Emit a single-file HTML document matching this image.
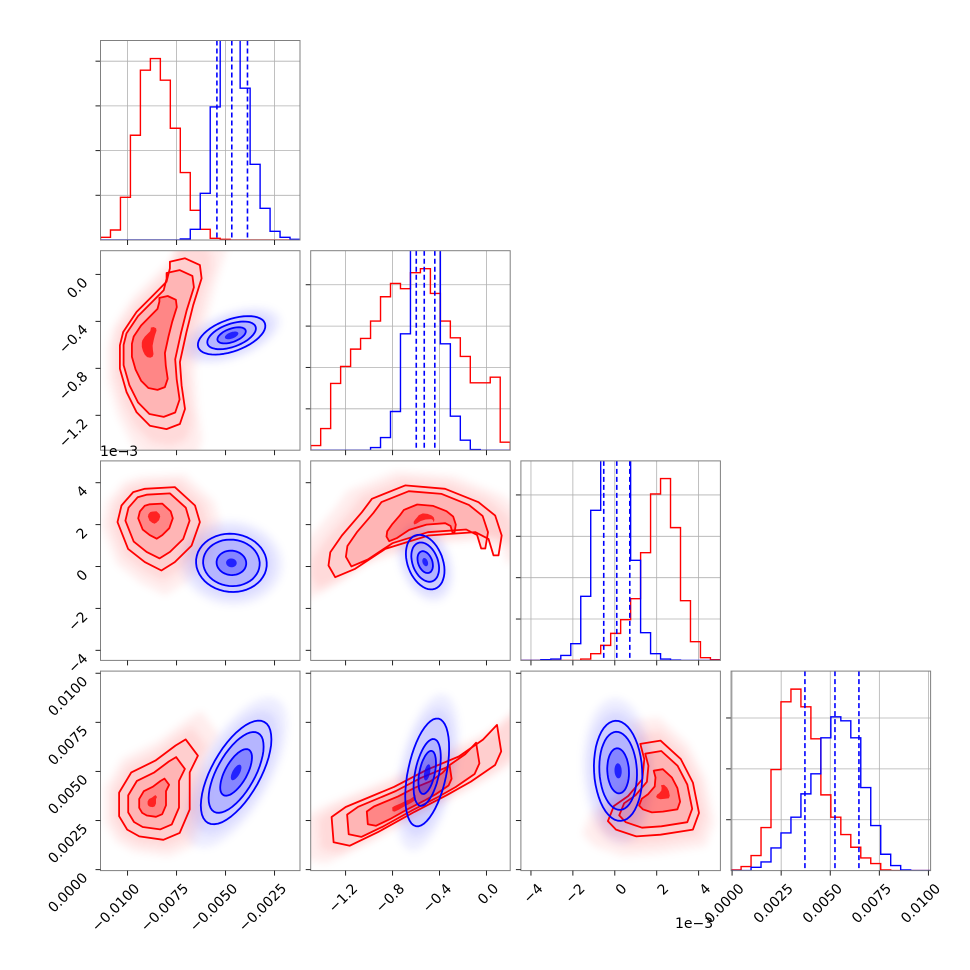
<!DOCTYPE html>
<html><head><meta charset="utf-8"><style>
html,body{margin:0;padding:0;background:#fff;}
svg{display:block;font-family:"DejaVu Sans","Liberation Sans",sans-serif;}
</style></head><body>
<svg id="fig" width="970" height="970" viewBox="0 0 970 970" xmlns="http://www.w3.org/2000/svg">
<defs><filter id="blur" x="-50%" y="-50%" width="200%" height="200%"><feGaussianBlur stdDeviation="4"/></filter></defs>
<rect width="970" height="970" fill="#fff"/>
</svg>
<script>
// ---- histogram data (counts per bin, 20 bins over each axis range) ----
const redHist0=[8,30,128,314,509,544,479,335,202,89,32,5,2,0,0,0,0,0,0,0];
const blueHist0=[0,0,0,0,0,0,0,0,3,32,140,399,700,720,455,227,95,26,8,2];
const redHist1=[14,65,200,251,303,335,387,460,500,484,532,544,470,387,337,281,202,202,219,24];
const blueHist1=[0,0,0,0,0,0,8,38,116,349,700,720,700,319,102,30,2,0,0,0];
const redHist2=[0,0,0,0,0,0,4,20,45,81,122,185,323,499,545,398,179,56,8,2];
const blueHist2=[0,0,2,4,15,50,192,450,700,720,700,300,83,20,4,1,0,0,0,0];
const redHist3=[2,12,45,129,303,506,544,491,395,227,160,108,70,38,21,2,0,0,0,0];
const blueHist3=[0,0,10,26,68,113,160,230,290,398,461,449,398,249,135,49,15,2,0,0];
const quant0=[-0.00544,-0.00468,-0.00388];
const quant1=[-0.598,-0.530,-0.440];
const quant2=[-0.527,0.095,0.716];
const quant3=[0.00371,0.00524,0.00646];
const histTickStep=[134,124,124,152.5];
// ---- axis ticks ----
const ticks0=[-0.01,-0.0075,-0.005,-0.0025];
const tickLabels0=["\u22120.0100","\u22120.0075","\u22120.0050","\u22120.0025"];
const ticks1=[-1.2,-0.8,-0.4,0.0];
const tickLabels1=["\u22121.2","\u22120.8","\u22120.4","0.0"];
const ticks2=[-4,-2,0,2,4];
const tickLabels2=["\u22124","\u22122","0","2","4"];
const ticks3=[0,0.0025,0.005,0.0075,0.01];
const tickLabels3=["0.0000","0.0025","0.0050","0.0075","0.0100"];
// ---- contour shapes (data units) ----
const redPoly10=[[-0.00784,0.108],[-0.00707,0.137],[-0.00631,0.079],[-0.00622,-0.034],[-0.00665,-0.262],[-0.00699,-0.49],[-0.00733,-0.747],[-0.00724,-0.946],[-0.00707,-1.145],[-0.00733,-1.274],[-0.00801,-1.317],[-0.00886,-1.288],[-0.00954,-1.174],[-0.01005,-1.003],[-0.01039,-0.804],[-0.01039,-0.604],[-0.01022,-0.49],[-0.00954,-0.319],[-0.00869,-0.177],[-0.00801,-0.063],[-0.00784,0.051]];
const redCenter10=[-0.00903,-0.576];
const blueCenter10=[-0.00469,-0.519];
const blueMajor10=[0.00170,0.103];
const redPoly20=[[-0.00912,3.71],[-0.00759,3.79],[-0.00656,2.91],[-0.00631,2.12],[-0.00673,1.0],[-0.00759,0.21],[-0.00827,-0.19],[-0.00912,0.21],[-0.00997,0.84],[-0.01051,2.12],[-0.01031,2.91],[-0.00971,3.55]];
const redCenter20=[-0.00869,2.43];
const blueCenter20=[-0.0047,0.175];
const blueMajor20=[0.0018,-0.16];
const redPoly21=[[-1.345,0.05],[-1.33,0.68],[-1.231,1.48],[-1.061,2.59],[-0.976,3.23],[-0.692,3.87],[-0.352,3.71],[-0.068,3.07],[0.074,2.43],[0.130,1.48],[0.102,0.53],[0.060,0.53],[0.017,1.32],[-0.096,1.64],[-0.494,1.48],[-0.862,0.84],[-1.118,-0.11],[-1.288,-0.51]];
const redCenter21=[-0.522,2.35];
const blueCenter21=[-0.522,0.21];
const blueMajor21=[-0.085,1.27];
const redPoly30=[[-0.01043,0.00272],[-0.01043,0.00392],[-0.00981,0.00495],[-0.00858,0.00555],[-0.00755,0.00632],[-0.00703,0.00663],[-0.00641,0.0058],[-0.00683,0.00495],[-0.00683,0.00306],[-0.00734,0.00187],[-0.00817,0.00152],[-0.0094,0.00169],[-0.01002,0.00204]];
const redCenter30=[-0.00878,0.00341];
const blueCenter30=[-0.00446,0.00495];
const blueMajor30=[0.00144,0.00257];
const redPoly31=[[-1.319,0.00268],[-1.199,0.00319],[-0.786,0.00422],[-0.511,0.00508],[-0.236,0.00576],[-0.030,0.00662],[0.090,0.00737],[0.125,0.00602],[0.073,0.00533],[-0.133,0.00448],[-0.339,0.00379],[-0.614,0.00294],[-0.924,0.00191],[-1.164,0.00122],[-1.302,0.00139]];
const redCenter31=[-0.719,0.00324];
const blueCenter31=[-0.505,0.00495];
const blueMajor31=[0.096,0.00274];
const redPoly32=[[1.22,0.0064],[2.18,0.00657],[3.15,0.00563],[3.73,0.00443],[4.02,0.00289],[3.73,0.00204],[2.18,0.00178],[1.03,0.00169],[0.06,0.00204],[-0.33,0.00247],[-0.04,0.00324],[0.64,0.00375],[1.32,0.00461],[1.41,0.00563]];
const redCenter32=[2.38,0.00392];
const blueCenter32=[0.159,0.00503];
const blueMajor32=[-0.13,0.00255];

const L=[100.5,310.7,520.9,731.1], T=[40.5,250.7,460.9,671.1], S=199.5;
const ranges=[[-0.01138,-0.00120],[-1.497,0.202],[-4.48,5.04],[-0.00005,0.01011]];
function X(c,v){return L[c]+(v-ranges[c][0])/(ranges[c][1]-ranges[c][0])*S;}
function Y(r,v){return T[r]+S-(v-ranges[r][0])/(ranges[r][1]-ranges[r][0])*S;}
const NS="http://www.w3.org/2000/svg";
const svg=document.getElementById('fig');
function el(tag,attrs,parent){const e=document.createElementNS(NS,tag);for(const k in attrs)e.setAttribute(k,attrs[k]);(parent||svg).appendChild(e);return e;}

const ticksAll=[ticks0,ticks1,ticks2,ticks3];
const labelsAll=[tickLabels0,tickLabels1,tickLabels2,tickLabels3];
const hists=[[redHist0,blueHist0],[redHist1,blueHist1],[redHist2,blueHist2],[redHist3,blueHist3]];
const quants=[quant0,quant1,quant2,quant3];

function clip(id,r,c){const cp=el('clipPath',{id:id});el('rect',{x:L[c],y:T[r],width:S,height:S},cp);}

for(let i=0;i<4;i++){
  const cid='clipH'+i; clip(cid,i,i);
  const g=el('g',{'clip-path':'url(#'+cid+')'});
  
  
  ticksAll[i].forEach(t=>{const x=X(i,t);const ln=el('line',{x1:x,x2:x,y1:T[i],y2:T[i]+S,stroke:'#b0b0b0','stroke-width':0.8},g);
    
    });
  for(let k=1;k*histTickStep[i]<598;k++){const y=T[i]+S-k*histTickStep[i]/598*S;
    const ln=el('line',{x1:L[i],x2:L[i]+S,y1:y,y2:y,stroke:'#b0b0b0','stroke-width':0.8},g);
    
    
    const tk=el('line',{x1:L[i]-5,x2:L[i],y1:y,y2:y,stroke:'#222','stroke-width':1});
    
    }
  const lo=ranges[i][0],hi=ranges[i][1],w=(hi-lo)/20;
  [['red',hists[i][0]],['blue',hists[i][1]]].forEach(([col,arr])=>{
    let d='M'+X(i,lo)+','+(T[i]+S);
    arr.forEach((v,k)=>{const y=T[i]+S-v/598*S;d+=' L'+X(i,lo+k*w)+','+y+' L'+X(i,lo+(k+1)*w)+','+y;});
    d+=' L'+X(i,hi)+','+(T[i]+S);
    const p=el('path',{d:d,fill:'none',stroke:col,'stroke-width':1.4},g);
    
    
  });
  quants[i].forEach(q=>{const x=X(i,q);const ln=el('line',{x1:x,x2:x,y1:T[i],y2:T[i]+S,stroke:'blue','stroke-width':1.6,'stroke-dasharray':'5,3'},g);
    
    });
}

function shapePts(r,c,spec,s){
  if(spec.type==='poly'){
    const cx=X(c,spec.center[0]),cy=Y(r,spec.center[1]);
    return spec.pts.map(p=>[cx+(X(c,p[0])-cx)*s, cy+(Y(r,p[1])-cy)*s]);
  }
  const cx=X(c,spec.center[0]),cy=Y(r,spec.center[1]);
  const ax=X(c,spec.center[0]+spec.major[0])-cx, ay=Y(r,spec.center[1]+spec.major[1])-cy;
  const px=-ay*spec.ratio, py=ax*spec.ratio; const out=[];
  for(let k=0;k<48;k++){const t=k/48*Math.PI*2;out.push([cx+s*(Math.cos(t)*ax+Math.sin(t)*px), cy+s*(Math.cos(t)*ay+Math.sin(t)*py)]);}
  return out;
}
function toD(pts){return 'M'+pts.map(p=>p[0].toFixed(1)+','+p[1].toFixed(1)).join(' L')+' Z';}

const scatters=[
 {r:1,c:0,red:{type:'poly',pts:redPoly10,center:redCenter10,levels:[1,0.86,0.55,0.18]},blue:{type:'ell',center:blueCenter10,major:blueMajor10,ratio:0.45,levels:[1,0.72,0.42,0.2]}},
 {r:2,c:0,red:{type:'poly',pts:redPoly20,center:redCenter20,levels:[1,0.78,0.42,0.15]},blue:{type:'ell',center:blueCenter20,major:blueMajor20,ratio:0.82,levels:[1,0.8,0.42,0.15]}},
 {r:2,c:1,red:{type:'poly',pts:redPoly21,center:redCenter21,levels:[1,0.82,0.4,0.12]},blue:{type:'ell',center:blueCenter21,major:blueMajor21,ratio:0.62,levels:[1,0.72,0.4,0.15]}},
 {r:3,c:0,red:{type:'poly',pts:redPoly30,center:redCenter30,levels:[1,0.72,0.38,0.12]},blue:{type:'ell',center:blueCenter30,major:blueMajor30,ratio:0.42,levels:[1,0.78,0.45,0.15]}},
 {r:3,c:1,red:{type:'poly',pts:redPoly31,center:redCenter31,levels:[1,0.78,0.5,0.14]},blue:{type:'ell',center:blueCenter31,major:blueMajor31,ratio:0.35,levels:[1,0.62,0.4,0.15]}},
 {r:3,c:2,red:{type:'poly',pts:redPoly32,center:redCenter32,levels:[1,0.8,0.45,0.15]},blue:{type:'ell',center:blueCenter32,major:blueMajor32,ratio:0.48,levels:[1,0.78,0.45,0.15]}}
];
const fillAlpha=[0.05,0.12,0.26,0.75];
scatters.forEach((sp,idx)=>{
  const cid='clipS'+idx; clip(cid,sp.r,sp.c);
  const g=el('g',{'clip-path':'url(#'+cid+')'});
  
  
  [['255,0,0','red',sp.red],['0,0,255','blue',sp.blue]].forEach(([rgb,col,spec])=>{
    [[1.45,0.07],[1.2,0.08]].forEach(([s,a])=>{const p=el('path',{d:toD(shapePts(sp.r,sp.c,spec,s)),fill:'rgba('+rgb+','+a+')',filter:'url(#blur)'},g);
      
      });
  });
  [['255,0,0','red',sp.red],['0,0,255','blue',sp.blue]].forEach(([rgb,col,spec])=>{
    spec.levels.forEach((s,li)=>{
      const p=el('path',{d:toD(shapePts(sp.r,sp.c,spec,s)),fill:'rgba('+rgb+','+fillAlpha[li]+')',stroke:li<3?col:'none','stroke-width':1.8,'stroke-linejoin':'round'},g);
      
      
    });
  });
});

for(let r=0;r<4;r++)for(let c=0;c<=r;c++){
  const f=el('rect',{x:L[c],y:T[r],width:S,height:S,fill:'none',stroke:'#808080','stroke-width':1});
  
  
  ticksAll[c].forEach(t=>{const x=X(c,t);const tk=el('line',{x1:x,x2:x,y1:T[r]+S,y2:T[r]+S+5,stroke:'#222','stroke-width':1});
    
    });
  if(r!==c){ticksAll[r].forEach(t=>{const y=Y(r,t);const tk=el('line',{x1:L[c]-5,x2:L[c],y1:y,y2:y,stroke:'#222','stroke-width':1});
    
    });}
}
for(let c=0;c<4;c++){ticksAll[c].forEach((t,k)=>{const x=X(c,t)+6,y=T[3]+S+12;
  const tx=el('text',{x:x,y:y,'text-anchor':'end','font-size':14,fill:'#000',transform:'rotate(-45 '+x+' '+y+')','dominant-baseline':'hanging'});
  tx.textContent=labelsAll[c][k];
  
  });}
for(let r=1;r<4;r++){ticksAll[r].forEach((t,k)=>{const x=L[0]-12,y=Y(r,t)+9;
  const tx=el('text',{x:x,y:y,'text-anchor':'end','font-size':14,fill:'#000',transform:'rotate(-45 '+x+' '+y+')'});
  tx.textContent=labelsAll[r][k];
  
  });}
const o1=el('text',{x:100,y:456,'font-size':14,fill:'#000'});o1.textContent='1e\u22123';


const o2=el('text',{x:675,y:928,'font-size':14,fill:'#000'});o2.textContent='1e\u22123';


</script>
</body></html>
